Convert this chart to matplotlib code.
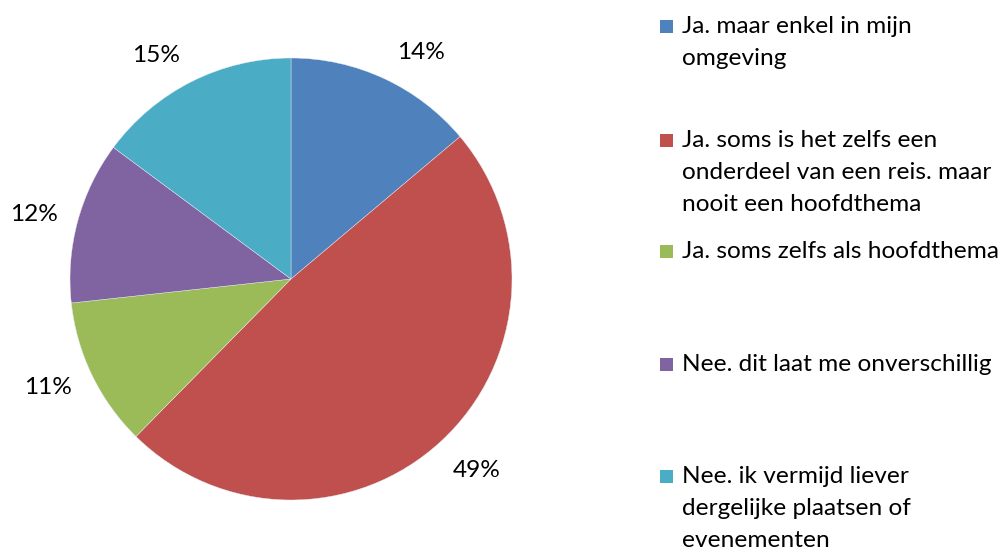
import matplotlib
matplotlib.use("Agg")
import matplotlib.pyplot as plt
from matplotlib.patches import Rectangle
import numpy as np

plt.rcParams['font.family'] = ['Lato', 'DejaVu Sans']

categories = [
    "Ja. maar enkel in mijn\nomgeving",
    "Ja. soms is het zelfs een\nonderdeel van een reis. maar\nnooit een hoofdthema",
    "Ja. soms zelfs als hoofdthema",
    "Nee. dit laat me onverschillig",
    "Nee. ik vermijd liever\ndergelijke plaatsen of\nevenementen",
]
values = [14, 49, 11, 12, 15]
colors = ["#4F81BD", "#C0504D", "#9BBB59", "#8064A2", "#4BACC6"]

# polar placement of the percentage labels (degrees, radius in pie units)
label_pos = [(60.1, 1.18), (-45.8, 1.206), (204.0, 1.203), (166.0, 1.198), (121.1, 1.183)]

W, H = 1007, 552
fig = plt.figure(figsize=(W / 100, H / 100), dpi=100)

cx, cy, r = 291, 279, 221
ax = fig.add_axes([(cx - r) / W, (H - cy - r) / H, 2 * r / W, 2 * r / H])
ax.pie(values, colors=colors, startangle=90, counterclock=False, radius=1,
       wedgeprops=dict(linewidth=0.3, edgecolor="#e8eef5"))
ax.set_xlim(-1, 1)
ax.set_ylim(-1, 1)
ax.set_aspect("equal")
ax.axis("off")

fs = 17.6
for v, (ang, rad) in zip(values, label_pos):
    a = np.deg2rad(ang)
    ax.text(rad * np.cos(a), rad * np.sin(a), f"{v}%", ha="center", va="center",
            fontsize=fs, color="black", clip_on=False)

# legend drawn entry by entry
baselines = [33, 147, 258, 371, 483]
line_step = 32
sq = 13
for label, col, yb in zip(categories, colors, baselines):
    fig.patches.append(Rectangle((660 / W, (H - yb) / H), sq / W, sq / H,
                                 transform=fig.transFigure, facecolor=col,
                                 edgecolor="none"))
    for i, line in enumerate(label.split("\n")):
        fig.text(682 / W, (H - yb - i * line_step) / H, line, ha="left",
                 va="baseline", fontsize=fs, color="black")

fig.savefig("out.png", dpi=100, facecolor="white")
